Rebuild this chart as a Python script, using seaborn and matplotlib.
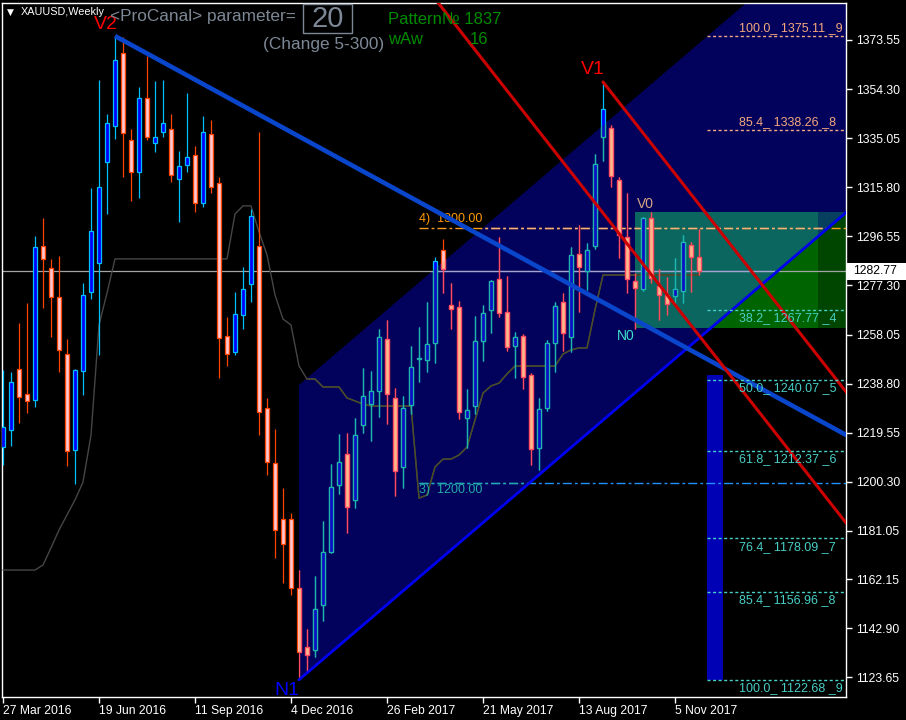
"""Weekly XAUUSD candle chart with channel, trend lines and fib levels."""

import numpy as np
import pandas as pd
import matplotlib
matplotlib.use('Agg')
import matplotlib.pyplot as plt
import matplotlib.transforms as mtrans
from matplotlib.patches import Polygon, Rectangle
import seaborn as sns

sns.set_style('dark', rc={'axes.facecolor': 'black', 'figure.facecolor': 'black'})
plt.rcParams['font.family'] = ['Liberation Sans', 'DejaVu Sans']
plt.rcParams['lines.scale_dashes'] = False


# weekly bars, 27 Mar 2016 .. 26 Nov 2017
open_ = [1214.1, 1220.6, 1244.4, 1234.6, 1232.3, 1292.7, 1284.3, 1272.7, 1250.3, 1212.9,
         1243.6, 1274.6, 1286.0, 1325.6, 1339.7, 1368.3, 1334.2, 1321.7, 1350.7, 1333.0,
         1337.4, 1338.5, 1319.2, 1324.7, 1328.5, 1309.8, 1336.5, 1317.3, 1257.3, 1251.3,
         1265.9, 1278.0, 1292.6, 1229.1, 1207.6, 1185.6, 1185.6, 1158.5, 1135.6, 1134.5,
         1151.8, 1172.8, 1198.9, 1211.1, 1193.1, 1222.5, 1230.7, 1235.8, 1256.2, 1233.1,
         1206.0, 1230.3, 1248.3, 1248.0, 1254.6, 1291.1, 1269.5, 1268.7, 1225.2, 1229.9,
         1255.4, 1267.6, 1279.7, 1266.8, 1253.4, 1257.5, 1242.2, 1213.7, 1229.4, 1254.6,
         1270.8, 1257.0, 1289.6, 1283.1, 1292.7, 1335.4, 1338.9, 1318.5, 1296.2, 1279.2,
         1275.8, 1303.6, 1277.1, 1273.6, 1273.2, 1275.1, 1293.0, 1288.3]
high = [1244.2, 1243.5, 1262.5, 1270.3, 1296.7, 1303.6, 1287.6, 1288.9, 1256.2, 1244.4,
        1278.1, 1315.5, 1357.9, 1344.5, 1375.1, 1374.6, 1338.6, 1355.0, 1367.3, 1357.5,
        1357.9, 1344.5, 1330.0, 1352.8, 1331.9, 1343.7, 1342.2, 1319.7, 1264.9, 1274.7,
        1284.5, 1307.4, 1337.4, 1233.1, 1221.0, 1197.9, 1188.1, 1165.8, 1142.4, 1163.4,
        1185.1, 1207.2, 1218.9, 1219.6, 1225.2, 1244.8, 1243.8, 1260.2, 1263.8, 1237.0,
        1234.0, 1253.6, 1260.9, 1270.8, 1288.6, 1295.5, 1278.1, 1271.3, 1236.7, 1265.3,
        1269.5, 1279.4, 1296.3, 1280.9, 1258.9, 1258.1, 1242.9, 1233.1, 1255.9, 1270.9,
        1274.2, 1292.3, 1301.0, 1293.8, 1328.7, 1357.1, 1340.3, 1319.7, 1313.4, 1282.3,
        1304.3, 1306.0, 1283.6, 1280.5, 1287.9, 1297.0, 1294.5, 1299.3]
low = [1206.9, 1214.3, 1223.5, 1227.4, 1229.8, 1268.6, 1257.0, 1243.5, 1206.6, 1199.4,
       1234.5, 1272.1, 1250.0, 1305.4, 1334.8, 1319.9, 1310.5, 1311.7, 1334.5, 1329.7,
       1335.6, 1318.0, 1302.2, 1321.7, 1306.2, 1307.9, 1313.4, 1241.1, 1245.9, 1250.1,
       1260.1, 1271.0, 1218.6, 1202.8, 1170.5, 1160.8, 1155.8, 1122.7, 1126.1, 1131.8,
       1145.8, 1172.4, 1195.6, 1180.3, 1190.0, 1219.6, 1216.4, 1225.8, 1222.9, 1194.7,
       1197.8, 1226.8, 1239.6, 1243.5, 1247.0, 1274.2, 1260.1, 1225.0, 1213.4, 1226.8,
       1247.8, 1258.8, 1264.8, 1251.5, 1240.9, 1236.6, 1206.9, 1204.9, 1228.2, 1243.5,
       1251.6, 1251.3, 1267.0, 1275.5, 1291.6, 1326.2, 1315.8, 1287.9, 1274.5, 1260.1,
       1275.2, 1278.1, 1263.8, 1265.7, 1269.6, 1270.3, 1274.9, 1281.4]
close = [1221.9, 1239.3, 1233.4, 1231.9, 1292.5, 1287.8, 1272.7, 1251.9, 1212.5, 1244.0,
         1273.4, 1298.5, 1315.8, 1340.9, 1365.6, 1337.0, 1321.7, 1350.7, 1335.4, 1335.4,
         1340.9, 1320.7, 1324.0, 1327.5, 1309.8, 1337.4, 1315.8, 1256.5, 1250.3, 1266.0,
         1275.8, 1304.4, 1227.6, 1208.2, 1181.4, 1175.8, 1158.5, 1133.7, 1132.3, 1150.3,
         1172.7, 1198.2, 1208.1, 1190.6, 1218.5, 1233.8, 1235.8, 1257.0, 1234.6, 1204.4,
         1229.1, 1245.3, 1248.9, 1254.2, 1286.9, 1283.6, 1268.2, 1227.6, 1228.3, 1255.4,
         1266.4, 1278.9, 1266.4, 1253.3, 1257.0, 1241.3, 1213.1, 1228.7, 1254.6, 1269.2,
         1258.5, 1289.1, 1284.4, 1291.1, 1324.9, 1346.4, 1320.1, 1297.0, 1279.7, 1276.2,
         1303.6, 1280.1, 1273.6, 1270.0, 1275.8, 1294.2, 1288.3, 1282.8]
# thin indicator line
mid_line = [1165.7, 1165.7, 1165.7, 1165.7, 1165.7, 1167.7, 1174.4, 1181.4, 1187.3, 1193.2,
            1200.2, 1218.6, 1261.8, 1274.3, 1287.7, 1287.7, 1287.7, 1287.7, 1287.7, 1287.7,
            1287.7, 1287.7, 1287.7, 1287.7, 1287.7, 1287.7, 1287.7, 1287.7, 1287.7, 1305.3,
            1308.5, 1308.5, 1298.3, 1289.3, 1273.6, 1264.1, 1261.8, 1245.7, 1240.6, 1240.6,
            1237.5, 1237.5, 1237.5, 1233.2, 1232.0, 1230.8, 1230.0, 1230.0, 1230.0, 1230.0,
            1230.0, 1230.0, 1193.9, 1195.1, 1206.1, 1209.2, 1209.2, 1210.8, 1213.9, 1224.5,
            1235.1, 1237.9, 1239.0, 1242.6, 1245.7, 1245.7, 1245.7, 1245.7, 1245.7, 1245.7,
            1250.4, 1252.0, 1252.8, 1252.8, 1267.7, 1281.4, 1281.4, 1281.4, 1281.4, 1281.4,
            1281.4, 1281.4, 1281.4, 1281.4, 1281.4, 1281.4, 1281.4, 1281.4]

x_tick_bars = [0, 12, 24, 36, 48, 60, 72, 84]
x_tick_labels = ['27 Mar 2016', '19 Jun 2016', '11 Sep 2016', '4 Dec 2016',
                 '26 Feb 2017', '21 May 2017', '13 Aug 2017', '5 Nov 2017']
y_ticks = [1373.55, 1354.30, 1335.05, 1315.80, 1296.55, 1277.30, 1258.05,
           1238.80, 1219.55, 1200.30, 1181.05, 1162.15, 1142.90, 1123.65]
bid = 1282.77

# fib levels: pct, price, index
fib_up = [('100.0', 1375.11, 9), ('85.4', 1338.26, 8)]
fib_dn = [('38.2', 1267.77, 4), ('50.0', 1240.07, 5), ('61.8', 1212.37, 6),
          ('76.4', 1178.09, 7), ('85.4', 1156.96, 8), ('100.0', 1122.68, 9)]

# drawn objects (bar index, price)
n1_bar, n1_price = 37, 1122.68
v2_bar, v2_price = 14, 1375.11
v1_bar, v1_price = 75, 1357.1
channel_slope, channel_width = 2.679, 115.6
v2_slope = -1.712
red_slope = -4.0
red2_anchor = (105.375, 1184.2)
box_main = (79, 101.9, 1260.6, 1306.2)
box_side = (101.9, 106.0, 1260.6, 1306.2)
level_4, level_3 = 1300.00, 1200.00
level_start = 52
fib_start = 88
vol_bar = (89, 1242.2)

df = pd.DataFrame({'bar': np.arange(len(close)), 'open': open_, 'high': high,
                   'low': low, 'close': close, 'mid': mid_line})

W, H = 906, 720
fig = plt.figure(figsize=(W / 100, H / 100), dpi=100)
ax = fig.add_axes([2 / W, 23 / H, 844 / W, 694 / H])
ax.set_xlim(-0.125, 105.375)
ax.set_ylim(1115.92, 1388.05)

# channel
x_end = 112
dx = x_end - n1_bar
ch = Polygon([(n1_bar, n1_price), (n1_bar, n1_price + channel_width),
              (x_end, n1_price + channel_width + channel_slope * dx),
              (x_end, n1_price + channel_slope * dx)],
             closed=True, facecolor='#02025c', edgecolor='none', zorder=1)
ax.add_patch(ch)


def add_twice(make, out_kw, in_kw):
    """Draw an artist once plain and once clipped to the channel in other colours."""
    make(**out_kw)
    arts = make(**in_kw)
    for a in arts:
        a.set_clip_path(ch)


def boxes(color, z, left, right, bottom, top):
    r = Rectangle((left, bottom), right - left, top - bottom, facecolor=color,
                  edgecolor='none', zorder=z)
    ax.add_patch(r)
    return [r]


add_twice(lambda **k: boxes(left=box_main[0], right=box_main[1], bottom=box_main[2], top=box_main[3], **k),
          dict(color='#006400', z=0.5), dict(color='#0b6660', z=1.1))
add_twice(lambda **k: boxes(left=box_side[0], right=box_side[1], bottom=box_side[2], top=box_side[3], **k),
          dict(color='#004600', z=0.5), dict(color='#06405e', z=1.1))


def candles(fill_up, edge_up, fill_dn, edge_dn):
    arts = []
    up = df[df['close'] >= df['open']]
    dn = df[df['close'] < df['open']]
    for sub, fc, ec in ((up, fill_up, edge_up), (dn, fill_dn, edge_dn)):
        arts.append(ax.vlines(sub['bar'], sub['low'], sub['high'], color=ec, lw=0.9, zorder=3))
        body = (sub['close'] - sub['open']).abs().clip(lower=0.3)
        bars = ax.bar(sub['bar'], body, bottom=np.minimum(sub['open'], sub['close']),
                      width=0.6, color=fc, edgecolor=ec, linewidth=0.9, zorder=4)
        arts.extend(bars.patches)
    return arts


add_twice(candles,
          dict(fill_up='#0000ff', edge_up='#00bfff', fill_dn='#ffc4cc', edge_dn='#ff4500'),
          dict(fill_up='#0a10c4', edge_up='#22b4a8', fill_dn='#ffb48a', edge_dn='#ff4a68'))


def mid(color):
    sns.lineplot(data=df, x='bar', y='mid', ax=ax, color=color, lw=1, zorder=2.6)
    return [ax.lines[-1]]


add_twice(mid, dict(color='#464646'), dict(color='#4c4c26'))
add_twice(lambda color: [ax.axhline(bid, color=color, lw=0.9, zorder=2.5)],
          dict(color='#a4a4a4'), dict(color='#a4a4d4'))

dashdot = (0, (6.5, 2.2, 2, 2.2))
add_twice(lambda color: [ax.hlines(level_4, level_start, 106, colors=color, lw=1,
                                   linestyles=dashdot, zorder=2.7)],
          dict(color='#ff9a20'), dict(color='#f5b27a'))
add_twice(lambda color: [ax.hlines(level_3, level_start, 106, colors=color, lw=1,
                                   linestyles=dashdot, zorder=2.7)],
          dict(color='#1e90ff'), dict(color='#22aaa6'))

# blue bar under the channel
ax.bar(vol_bar[0], vol_bar[1] - n1_price, bottom=n1_price, width=2.0,
       color='#0000b4', edgecolor='none', linewidth=0, zorder=2)

# trend lines
xs = np.array([n1_bar, x_end])
ax.plot(xs, n1_price + channel_slope * (xs - n1_bar), color='#0000f0', lw=2.0, zorder=5)
xs = np.array([v2_bar, x_end])
ax.plot(xs, v2_price + v2_slope * (xs - v2_bar), color='#0a46cc', lw=3.3, zorder=5,
        solid_capstyle='butt')
xs = np.array([v1_bar, x_end])
ax.plot(xs, v1_price + red_slope * (xs - v1_bar), color='#cc0000', lw=2.2, zorder=5)
xs = np.array([45, x_end])
ax.plot(xs, red2_anchor[1] + red_slope * (xs - red2_anchor[0]), color='#cc0000', lw=2.2, zorder=5)

# fib levels
for pct, price, k in fib_up:
    ax.hlines(price, fib_start, 106, colors='#f0a882', lw=1, linestyles=(0, (2.2, 1.8)), zorder=6)
    ax.text(92.0, price + 3.0, f'{pct}_ {price:.2f} _{k}', color='#f4a87c', fontsize=9,
            ha='left', va='center', zorder=7)
for pct, price, k in fib_dn:
    ax.hlines(price, fib_start, 106, colors='#48cfc6', lw=1, linestyles=(0, (2.2, 1.8)), zorder=6)
    ax.text(92.0, price - 3.2, f'{pct}_ {price:.2f} _{k}', color='#48cfc6', fontsize=9,
            ha='left', va='center', zorder=7)

ax.text(52, level_4 + 3.3, f'4)  {level_4:.2f}', color='#ff9a00', fontsize=9,
        ha='left', va='center', zorder=4.5)
ax.text(52, level_3 - 3.0, f'3)  {level_3:.2f}', color='#22aaa6', fontsize=9,
        ha='left', va='center', zorder=4.5)

# pivot labels
ax.text(12.9, 1379.8, 'V2', color='#ff0000', fontsize=14, ha='center', va='center', zorder=8)
ax.text(73.75, 1361.8, 'V1', color='#ff0000', fontsize=14, ha='center', va='center', zorder=8)
ax.text(35.5, 1118.5, 'N1', color='#0000ff', fontsize=14, ha='center', va='center', zorder=8)
ax.text(80.25, 1309.2, 'V0', color='#d6a684', fontsize=10, ha='center', va='center', zorder=8)
ax.text(77.9, 1257.4, 'N0', color='#3ee0cc', fontsize=10, ha='center', va='center', zorder=8)

# axes look
for s in ax.spines.values():
    s.set_color('white')
    s.set_linewidth(1)
ax.grid(False)
ax.set_xlabel('')
ax.set_ylabel('')
ax.yaxis.tick_right()
ax.set_yticks(y_ticks)
ax.set_yticklabels([f'{v:.2f}' for v in y_ticks])
ax.set_xticks(x_tick_bars)
ax.set_xticklabels(x_tick_labels, ha='left')
ax.tick_params(axis='y', which='both', left=False, right=True, labelleft=False,
               labelright=True, colors='white', length=4, width=1, pad=3, labelsize=8.8)
ax.tick_params(axis='x', bottom=True, colors='white', length=4, width=1, pad=2, labelsize=8.7)

# last price marker
blend = mtrans.blended_transform_factory(ax.transAxes, ax.transData)
ax.add_patch(Rectangle((1.001, bid - 3.3), 0.075, 6.7, transform=blend, clip_on=False,
                       facecolor='white', edgecolor='none', zorder=9))
ax.text(1.008, bid, f'{bid:.2f}', transform=blend, color='black', fontsize=8.8,
        ha='left', va='center', clip_on=False, zorder=10)

# header texts (pixel positions on the window)
def fx(x, y):
    return x / W, 1 - y / H


gray = '#7d8896'
fig.text(*fx(10, 12), '▼', color='white', fontsize=6.5, ha='center', va='center',
         family='DejaVu Sans')
fig.text(*fx(21, 12), 'XAUUSD,Weekly', color='white', fontsize=7.8, ha='left', va='center')
fig.text(*fx(110, 17), '<ProCanal> parameter=', color=gray, fontsize=12.4, ha='left', va='center')
fig.patches.append(Rectangle(fx(303, 33), 49 / W, 29 / H, transform=fig.transFigure,
                             facecolor='none', edgecolor=gray, lw=1))
fig.text(*fx(327.5, 19), '20', color=gray, fontsize=21, ha='center', va='center')
fig.text(*fx(263, 45), '(Change 5-300)', color=gray, fontsize=12.4, ha='left', va='center')
green = '#008c00'
fig.text(*fx(388, 19), 'Pattern№ 1837', color=green, fontsize=12, ha='left', va='center')
fig.text(*fx(388, 39), 'wAw', color=green, fontsize=12, ha='left', va='center')
fig.text(*fx(470, 39), '16', color=green, fontsize=12, ha='left', va='center')

fig.savefig('out.png', dpi=100, facecolor='black')
